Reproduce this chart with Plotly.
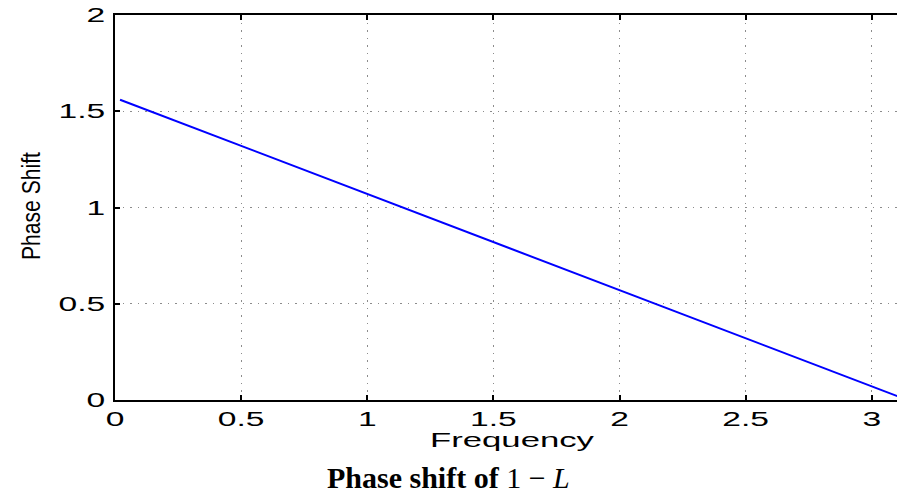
import plotly.graph_objects as go

# Phase response of the filter 1 - L (radians) over normalised frequency
frequency = [0.02, 0.5, 1.0, 1.5, 2.0, 2.5, 3.0, 3.1416]
phase_shift = [1.56, 1.32, 1.07, 0.82, 0.57, 0.32, 0.07, 0.0]

x_ticks = [0, 0.5, 1, 1.5, 2, 2.5, 3]
x_tick_text = ["0", "0.5", "1", "1.5", "2", "2.5", "3"]
y_ticks = [0, 0.5, 1, 1.5, 2]
y_tick_text = ["0", "0.5", "1", "1.5", "2"]

W, H = 897, 500
ML, MR, MT, MB = 115, 0, 15, 100
pw, ph = W - ML - MR, H - MT - MB

fig = go.Figure()
fig.add_trace(go.Scatter(
    x=frequency, y=phase_shift, mode="lines",
    line=dict(color="#0000ff", width=2), showlegend=False, cliponaxis=True,
))

tick_font = dict(family="Liberation Sans, Arial, sans-serif", size=20, color="black")
axis_common = dict(
    showline=True, linecolor="black", linewidth=1.5,
    ticks="inside", ticklen=5, tickwidth=1.5, tickcolor="black",
    showgrid=True, gridcolor="#8c8c8c", griddash="1.5px,6px", gridwidth=1,
    zeroline=False, tickfont=tick_font,
)
fig.update_xaxes(range=[0, 3.1], tickvals=x_ticks, ticktext=x_tick_text,
                 mirror="ticks", **axis_common)
fig.update_yaxes(range=[0, 2], tickvals=y_ticks, ticktext=y_tick_text,
                 mirror=False, ticklabelstandoff=4, **axis_common)


def px_x(px):
    return (px - ML) / pw


def px_y(py):
    return (MT + ph - py) / ph


fig.add_annotation(text="Phase Shift", textangle=-90, showarrow=False,
                   xref="paper", yref="paper", x=px_x(31), y=px_y(206),
                   xanchor="center", yanchor="middle",
                   font=dict(family="Liberation Sans, Arial, sans-serif",
                             size=25, color="black"))
fig.add_annotation(text="Frequency", showarrow=False,
                   xref="paper", yref="paper", x=px_x(512), y=px_y(440),
                   xanchor="center", yanchor="middle",
                   font=dict(family="Liberation Sans, Arial, sans-serif", size=19.5, color="black"))
fig.add_annotation(text="<b>Phase shift of</b> 1 − <i>L</i>", showarrow=False,
                   xref="paper", yref="paper", x=px_x(448), y=px_y(477),
                   xanchor="center", yanchor="middle",
                   font=dict(family="Liberation Serif, Times New Roman, serif", size=30, color="black"))

fig.update_layout(
    width=W, height=H,
    margin=dict(l=ML, r=MR, t=MT, b=MB, pad=0),
    paper_bgcolor="white", plot_bgcolor="white",
)

# Axis lettering is drawn horizontally widened; scale each text about its anchor.
widen_text = """
var gd = document.getElementById('{plot_id}');
function widen(el, s) {
  var bb = el.getBBox();
  var anchor = el.getAttribute('text-anchor') || 'start';
  var px = anchor === 'middle' ? bb.x + bb.width / 2
         : (anchor === 'end' ? bb.x + bb.width : bb.x);
  var t = el.getAttribute('transform') || '';
  el.setAttribute('transform', t + ' translate(' + px + ',0) scale(' + s + ',1) translate(' + (-px) + ',0)');
}
gd.querySelectorAll('.xtick text, .ytick text').forEach(function (el) { widen(el, 1.68); });
gd.querySelectorAll('text.annotation-text').forEach(function (el) {
  var s = el.textContent.trim();
  if (s === 'Frequency') { widen(el, 1.78); }
  else if (s === 'Phase Shift') { widen(el, 0.845); }
});
"""

fig.write_html("out.html", post_script=widen_text)
